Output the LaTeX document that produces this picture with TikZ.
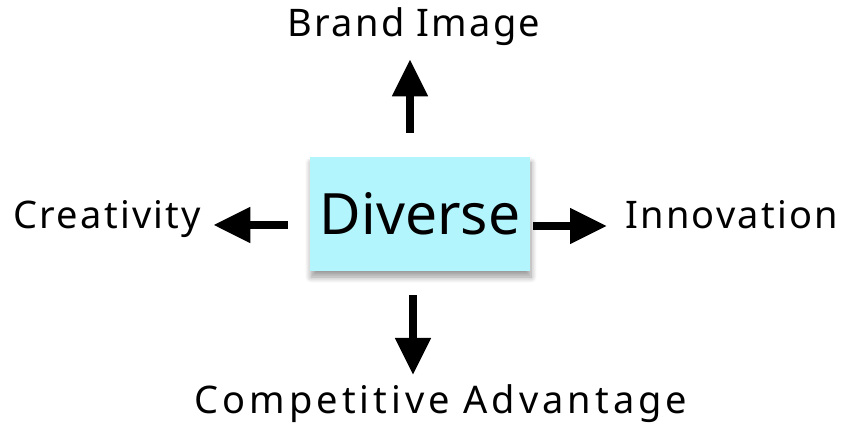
\documentclass[tikz,border=0pt]{standalone}
\usepackage{fontspec}
\setmainfont{Noto Sans}
\newfontfamily\lblfont[LetterSpace=6]{Noto Sans}
\newfontfamily\widelblfont[LetterSpace=10.5]{Noto Sans}
\usetikzlibrary{arrows.meta}
\usetikzlibrary{shadows.blur}
\definecolor{boxcyan}{HTML}{B3F5FC}
\tikzset{arr/.style = {line width=8pt,
                       -{Triangle[length=37pt,width=34pt]}}}
\tikzset{lbl/.style = {inner sep=0pt, font=\lblfont\fontsize{38}{42}\selectfont}}
\begin{document}
\begin{tikzpicture}[x=1pt,y=-1pt]
            \useasboundingbox (0,0) rectangle (844,427);
            \node[fill=boxcyan, minimum width=220pt, minimum height=114pt,
                  blur shadow={shadow xshift=1pt, shadow yshift=-6pt, shadow blur steps=8,
                               shadow blur radius=6pt, shadow opacity=40},
                  font=\fontsize{57}{60}\selectfont] (box) at (420,214) {Diverse};
            \node[lbl, anchor=base] (brand) at (414,37) {Brand Image};
            \node[lbl, anchor=base west] (crea) at (13,229) {Creativity};
            \node[lbl, anchor=base west] (inno) at (625,229) {Innovation};
            \node[lbl, font=\widelblfont\fontsize{38}{42}\selectfont, anchor=base] (comp) at (441,414) {Competitive Advantage};
            \draw[arr, shorten <=24pt, shorten >=13pt] ([xshift=-10pt]box.north) -- ([xshift=-10pt]box.north |- brand.south);
            \draw[arr, shorten <=22pt, shorten >=12pt] ([yshift=-11pt]box.west) -- ([yshift=-11pt]box.west -| crea.east);
            \draw[arr, shorten <=3pt, shorten >=18pt] ([yshift=-12pt]box.east) -- ([yshift=-12pt]box.east -| inno.west);
            \draw[arr, shorten <=24pt, shorten >=10pt] ([xshift=-7pt]box.south) -- ([xshift=-7pt]box.south |- comp.north);
        \end{tikzpicture}
\end{document}
